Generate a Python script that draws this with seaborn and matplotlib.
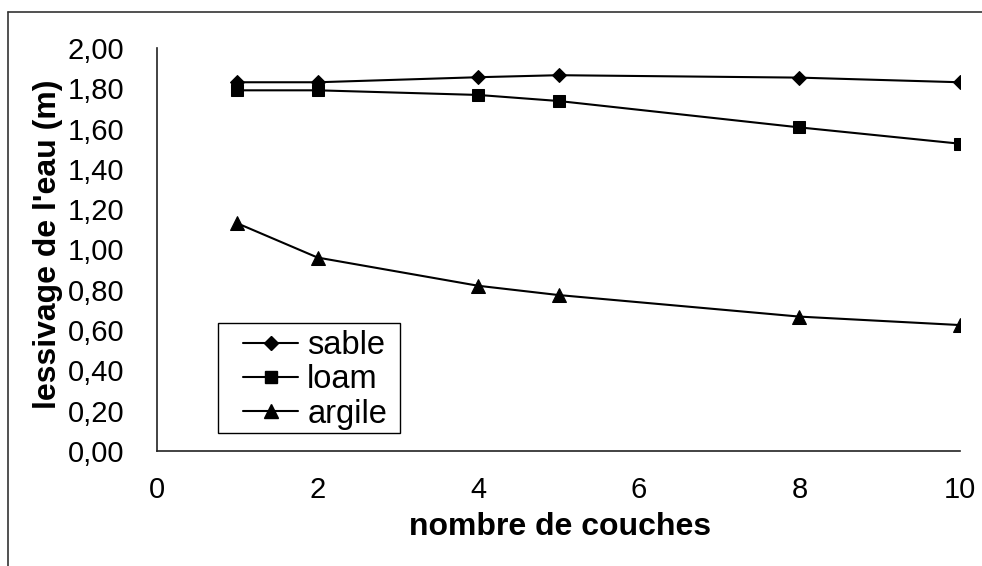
import numpy as np
import pandas as pd
import seaborn as sns
import matplotlib.pyplot as plt
from matplotlib.lines import Line2D
from matplotlib.patches import Rectangle
from matplotlib.ticker import FuncFormatter

# values
couches = [1, 2, 4, 5, 8, 10]
sable = [1.83, 1.83, 1.855, 1.865, 1.853, 1.83]
loam = [1.79, 1.79, 1.767, 1.737, 1.606, 1.525]
argile = [1.13, 0.96, 0.82, 0.774, 0.667, 0.625]
series_names = ["sable", "loam", "argile"]

df = pd.DataFrame({
    "couches": couches * 3,
    "valeur": sable + loam + argile,
    "sol": [n for n in series_names for _ in couches],
})

sns.set_theme(style="white")
plt.rcParams['font.family'] = ['Liberation Sans', 'DejaVu Sans']
plt.rcParams['text.color'] = 'black'
plt.rcParams['axes.labelcolor'] = 'black'

fig = plt.figure(figsize=(9.82, 5.66), dpi=100)
ax = fig.add_axes([157 / 982, 1 - 451 / 566, (960 - 157) / 982, (451 - 48) / 566])

markers = {"sable": "D", "loam": "s", "argile": "^"}
sizes = {"sable": 7.5, "loam": 8.5, "argile": 9.5}
sns.lineplot(data=df, x="couches", y="valeur", style="sol", markers=markers,
             dashes=False, color="black", linewidth=1.5, markersize=9,
             markeredgecolor="black", legend=False, ax=ax)

# per-series marker sizes
for line, name in zip(ax.get_lines(), series_names):
    line.set_markersize(sizes[name])

ax.set_xlim(0, 10)
ax.set_ylim(0, 2.0)
ax.set_xticks([0, 2, 4, 6, 8, 10])
ax.set_yticks(np.arange(0, 2.01, 0.2))
ax.yaxis.set_major_formatter(FuncFormatter(lambda v, p: f"{v:.2f}".replace(".", ",")))

for side in ["top", "right"]:
    ax.spines[side].set_visible(False)
for side in ["left", "bottom"]:
    ax.spines[side].set_color("#222222")
    ax.spines[side].set_linewidth(1.2)

ax.tick_params(axis="both", direction="inout", length=13, width=1.1, color="#222222",
               labelsize=21, labelcolor="black")
ax.tick_params(axis="y", pad=17)
ax.tick_params(axis="x", pad=11.5)

ax.set_xlabel("nombre de couches", fontsize=23, fontweight="bold")
ax.set_ylabel("lessivage de l'eau (m)", fontsize=23, fontweight="bold")
ax.xaxis.set_label_coords(0.502, -0.152)
ax.yaxis.set_label_coords(-0.117, 0.514)

# legend without its own frame, box drawn separately like the scanned one
handles = [Line2D([], [], color="black", linewidth=1.5, marker=markers[n],
                  markersize=sizes[n], markeredgecolor="black") for n in series_names]
leg = ax.legend(handles, series_names, loc="upper left", bbox_to_anchor=(0.107, 0.30),
                fontsize=23.5, frameon=False, handlelength=1.69,
                handletextpad=0.28, labelspacing=0.1, borderpad=0, borderaxespad=0)
ax.add_patch(Rectangle((0.076, 0.0447), 0.2267, 0.273, transform=ax.transAxes,
                       fill=False, edgecolor="black", linewidth=1.0, zorder=5))

# frame of the scanned chart
fig.add_artist(Line2D([8 / 982, 8 / 982], [0, 1 - 12 / 566], color="#333333", linewidth=1.2))
fig.add_artist(Line2D([8 / 982, 1], [1 - 12 / 566, 1 - 12 / 566], color="#333333", linewidth=1.2))

fig.savefig("out.png", dpi=100, facecolor="white")
